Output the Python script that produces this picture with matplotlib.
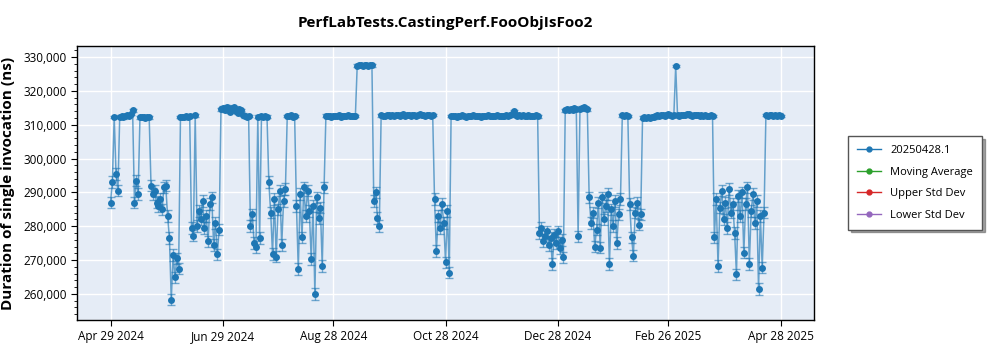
import matplotlib
matplotlib.use("Agg")
import matplotlib.pyplot as plt
import matplotlib.dates as mdates
from matplotlib.lines import Line2D
from matplotlib.ticker import FuncFormatter, MultipleLocator
import numpy as np
import pandas as pd

plt.rcParams['font.family'] = ['Open Sans', 'DejaVu Sans']

# ---------------- data ----------------
title = "PerfLabTests.CastingPerf.FooObjIsFoo2"
y_label = "Duration of single invocation (ns)"
legend_names = ["20250428.1", "Moving Average", "Upper Std Dev", "Lower Std Dev"]
start_date = "2024-04-29"   # one run per day from here

values = [
    287000, 293000, 312300, 295500, 290500, 312400, 312500, 312200, 312700, 312900,
    312600, 313200, 314200, 287000, 293500, 289500, 312200, 312300, 312400, 312100,
    312300, 312200, 292000, 289500, 290500, 287000, 286000, 288000, 285000, 291500,
    292000, 283000, 276500, 258300, 271500, 264900, 270500, 267500, 312300, 312400,
    312200, 312500, 312300, 312600, 279500, 277200, 312800, 280000, 284500, 282000,
    287500, 279500, 283000, 275500, 286500, 288500, 274500, 281000, 271700, 279000,
    314500, 315000, 314200, 315300, 314800, 313800, 314900, 315200, 314000, 313600,
    314600, 314300, 313000, 312500, 312300, 312600, 280000, 283500, 275000, 273800,
    312400, 276500, 312500, 312300, 312600, 312400, 293000, 284000, 271800, 288000,
    271000, 285000, 290500, 274500, 287500, 291000, 312600, 312500, 312800, 312400,
    312600, 286000, 267300, 289500, 276700, 291500, 283000, 290500, 284500, 270300,
    286000, 260000, 288500, 282500, 285500, 268300, 291500, 312700, 312500, 312600,
    312400, 312700, 312600, 312500, 312800, 312400, 312600, 312700, 312500, 312900,
    312600, 312500, 312700, 312600, 327400, 327600, 327500, 327300, 327700, 327500,
    327400, 327600, 327500, 287500, 290000, 282500, 280000, 312800, 312600, 312700,
    312900, 312800, 312600, 313000, 312700, 312800, 312900, 312600, 312800, 313100,
    312700, 312900, 312800, 312600, 313000, 312800, 312700, 312900, 313100, 312800,
    312900, 312700, 312800, 313000, 312600, 312900, 288000, 272700, 283000, 279500,
    286500, 281000, 269300, 284500, 266300, 312600, 312500, 312700, 312400, 312600,
    312500, 312800, 312600, 312400, 312700, 312500, 312600, 312800, 312500, 312700,
    312600, 312400, 312700, 312600, 312500, 312800, 312600, 312700, 312500, 312600,
    312800, 312700, 312600, 312500, 312700, 312900, 312600, 312800, 313200, 314000,
    313000, 312700, 312900, 312600, 312800, 312700, 312500, 312800, 312600, 312700,
    312600, 312800, 312500, 278000, 279500, 275500, 277000, 278500, 274500, 276500,
    268800, 277500, 275000, 278500, 273500, 276000, 270800, 314200, 314500, 314300,
    314700, 314400, 314800, 314500, 277000, 314600, 315000, 315200, 314900, 314500,
    288500, 281000, 284000, 274000, 279000, 287000, 273700, 288500, 282000, 286000,
    289500, 268800, 285000, 280000, 287500, 275000, 283500, 288000, 312800, 312700,
    312900, 312600, 286500, 276700, 271300, 284000, 287000, 280500, 283500, 312100,
    312200, 312000, 312300, 312100, 312400, 312200, 312600, 312800, 312500, 312900,
    313000, 312700, 312900, 313100, 312800, 312700, 312900, 327300, 312800, 312600,
    312900, 313000, 312800, 313100, 313200, 312900, 312700, 313000, 312800, 312900,
    312700, 312800, 312600, 312900, 312700, 312500, 312800, 312600, 276700, 288000,
    268300, 285500, 290500, 282000, 287000, 279500, 291000, 284000, 286500, 278000,
    265800, 289000, 283000, 290000, 272200, 286500, 291500, 268800, 284500, 289500,
    281000, 287500, 261400, 283000, 267800, 284000, 312900, 312700, 313000, 312800,
    312600, 312900, 312700, 313000, 312600,
]
# error bar half-heights: tight on the plateaus, wider on noisy runs
err_plateau = 400
err_noisy = 1700
plateau_floor = 305000

tick_dates = ["2024-04-29", "2024-06-29", "2024-08-28", "2024-10-28",
              "2024-12-28", "2025-02-26", "2025-04-28"]
x_min, x_max = "2024-04-10 19:00", "2025-05-16 03:00"
y_min, y_max = 252300, 333250

# ---------------- plot ----------------
dates = pd.date_range(start_date, periods=len(values), freq="D")
vals = np.array(values, dtype=float)
errs = np.where(vals > plateau_floor, err_plateau, err_noisy)

blue = "#1f77b4"
fig = plt.figure(figsize=(10, 3.5), dpi=100)
ax = fig.add_axes([0.077, 0.0857, 0.737, 0.7829])
ax.set_facecolor("#E5ECF6")

ax.errorbar(dates, vals, yerr=errs, fmt="none", ecolor=blue, elinewidth=1.0,
            capsize=3, capthick=1.0, alpha=0.6, zorder=2)
ax.plot(dates, vals, "-", color=blue, lw=1.1, alpha=0.65, zorder=3)
ax.plot(dates, vals, "o", color=blue, ms=5, mew=0, zorder=4)

ax.set_xlim(pd.Timestamp(x_min), pd.Timestamp(x_max))
ax.set_ylim(y_min, y_max)
ax.set_xticks([pd.Timestamp(d) for d in tick_dates])
ax.xaxis.set_major_formatter(mdates.DateFormatter("%b %d %Y"))
ax.yaxis.set_major_locator(MultipleLocator(10000))
ax.yaxis.set_minor_locator(MultipleLocator(2000))
ax.yaxis.set_major_formatter(FuncFormatter(lambda v, p: f"{int(v):,}"))

ax.grid(True, which="major", color="white", lw=1.0)
ax.set_axisbelow(True)
for s in ax.spines.values():
    s.set_color("black")
    s.set_linewidth(1.0)
ax.tick_params(axis="both", which="major", labelsize=8.5, length=4, color="black")
ax.tick_params(axis="y", which="minor", length=2, color="black")
ax.tick_params(axis="x", which="minor", length=0)

ax.set_title(title, fontsize=11, fontweight="bold", pad=14)
ax.set_ylabel(y_label, fontsize=11, fontweight="bold", labelpad=6)

leg_colors = [blue, "#2ca02c", "#d62728", "#9467bd"]
handles = [Line2D([0], [0], color=c, lw=1, marker="o", ms=3.5) for c in leg_colors]
fig.legend(handles, legend_names, loc="upper left", bbox_to_anchor=(0.848, 0.611),
           borderaxespad=0, fontsize=8, frameon=True, fancybox=False, shadow=True,
           edgecolor="#555555", handlelength=2.2, borderpad=0.8, labelspacing=0.95)

fig.savefig("out.png", dpi=100)
